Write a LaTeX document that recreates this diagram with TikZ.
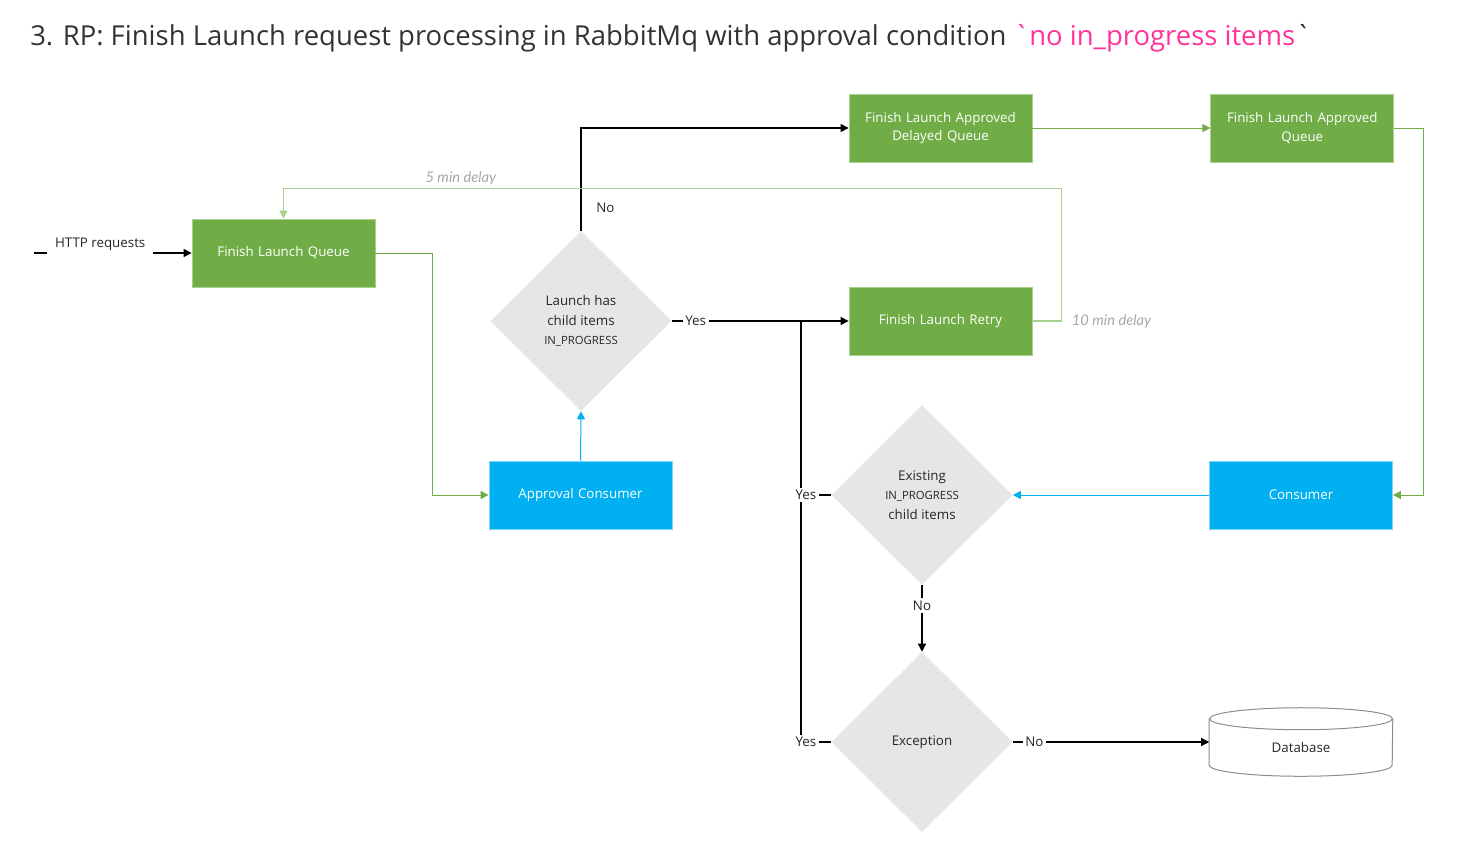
\documentclass[tikz,border=0pt]{standalone}
\usepackage{fontspec}
\setmainfont{Open Sans}
\newfontfamily\delayfont{Lato}
\usepackage{xcolor}
\usetikzlibrary{shapes,arrows.meta,positioning,calc}

\definecolor{queuegreen}{HTML}{70AD47}
\definecolor{queueedge}{HTML}{A9D18E}
\definecolor{consumerblue}{HTML}{00B0F0}
\definecolor{consumeredge}{HTML}{7FD7F7}
\definecolor{decisiongray}{HTML}{E6E6E6}
\definecolor{loopgreen}{HTML}{A9D18E}
\definecolor{delaygray}{HTML}{A6A6A6}
\definecolor{titlepink}{HTML}{FF3399}
\definecolor{titlegray}{HTML}{333333}
\definecolor{labelgray}{HTML}{262626}
\definecolor{dbgray}{HTML}{8C8C8C}

\newcommand{\smallcaps}[1]{{\fontsize{8.5}{14.5}\selectfont #1}}

\begin{document}
\begin{tikzpicture}[x=0.75pt, y=-0.75pt,
        queue/.style={rectangle, draw=queueedge, line width=0.6pt, fill=queuegreen, text=white, text width=130pt, align=center, minimum width=137.25pt, minimum height=51pt, font=\fontsize{10}{14}\selectfont},
        consumer/.style={queue, draw=consumeredge, fill=consumerblue},
        decision/.style={diamond, fill=decisiongray, minimum width=135.75pt, minimum height=135pt, inner sep=0pt, align=center, text=labelgray, font=\fontsize{10}{14.5}\selectfont},
        database/.style={rectangle, minimum width=137.25pt, minimum height=51pt, text height=17pt, text depth=2pt, text=labelgray, font=\fontsize{10}{12}\selectfont},
        dbline/.style={draw=dbgray, line width=0.75pt},
        lbl/.style={font=\fontsize{10}{12}\selectfont, text=labelgray, fill=white, inner sep=2pt},
        delay/.style={font=\delayfont\itshape\fontsize{11}{13}\selectfont, text=delaygray},
        arrow/.style={-{Triangle[length=6pt,width=6pt]}, line width=0.9pt},
        line/.style={line width=0.9pt},
        greenarrow/.style={arrow, draw=queuegreen, line width=0.75pt},
        bluearrow/.style={arrow, draw=consumerblue, line width=0.75pt},
        looparrow/.style={arrow, draw=loopgreen, line width=1.2pt}
    ]
        \useasboundingbox (0,0) rectangle (1467,843);

        % Title
        \node[anchor=base west, inner sep=0pt, text=titlegray, font=\fontsize{20.6}{24}\selectfont] (title) at (30,45)
            {3. RP: Finish Launch request processing in RabbitMq with approval condition \textcolor{titlepink}{\textasciigrave no in\_progress items}\textasciigrave};

        % Queues and consumers
        \node[queue] (flq) at (283.5,253) {Finish Launch Queue};
        \node[consumer] (approval) at (580.5,495) {Approval Consumer};
        \node[queue] (delayq) at (940.5,128) {Finish Launch Approved\\Delayed Queue};
        \node[queue, right=133.5pt of delayq] (approvedq) {Finish Launch Approved\\Queue};
        \node[queue] (retry) at (940.5,321) {Finish Launch Retry};
        \node[consumer] (consumer) at (1301,495) {Consumer};

        % Decisions
        \node[decision] (haschild) at (581,321) {Launch has\\child items\\\smallcaps{IN\_PROGRESS}};
        \node[decision] (existing) at (922,495) {Existing\\\smallcaps{IN\_PROGRESS}\\child items};
        \node[decision] (exception) at (922,742) {Exception};

        % Database
        \node[database] (db) at (1301,742) {Database};
        \draw[dbline] ([yshift=-8.25pt]db.north) ellipse [x radius=68.6pt, y radius=8.25pt];
        \draw[dbline] ([yshift=-8.25pt]db.north west) -- ([yshift=8.25pt]db.south west)
            arc[start angle=180, end angle=360, x radius=68.6pt, y radius=8.25pt] -- ([yshift=-8.25pt]db.north east);

        \coordinate (http) at (34,253);
        \coordinate (join) at (801,321);

        % Arrows
        \draw[arrow] (http) -- node[lbl, pos=0.42, yshift=6.75pt, inner xsep=6pt, inner ysep=4pt] {HTTP requests} (flq);
        \draw[greenarrow] (flq.east) -- ++(57,0) |- (approval.west);
        \draw[bluearrow] (approval.north) -- (haschild.south);
        \draw[arrow] (haschild.north) |- node[lbl, fill=none, pos=0.11, right=9pt] {No} (delayq.west);
        \draw[greenarrow] (delayq) -- (approvedq);
        \draw[greenarrow] (approvedq.east) -- ++(29,0) |- (consumer.east);
        \draw[bluearrow] (consumer.west) -- (existing.east);
        \draw[arrow] (haschild.east) -- node[lbl, pos=0.135] {Yes} (retry.west);
        \draw[line] (exception.west) -| node[lbl, pos=0.42] {Yes} (join);
        \draw[line] (existing.west) -| node[lbl, pos=0.42] {Yes} (join);
        \draw[arrow] (existing) -- node[lbl, pos=0.31] {No} (exception);
        \draw[arrow] (exception) -- node[lbl, pos=0.11] {No} (db);

        % Retry loop
        \draw[looparrow] (retry.east) -- ++(29,0) node[delay, right=4pt] {10 min delay}
            |- node[delay, pos=0.886, above=-1pt] {5 min delay} ([yshift=22.5pt]flq.north) -- (flq.north);

    \end{tikzpicture}
\end{document}
